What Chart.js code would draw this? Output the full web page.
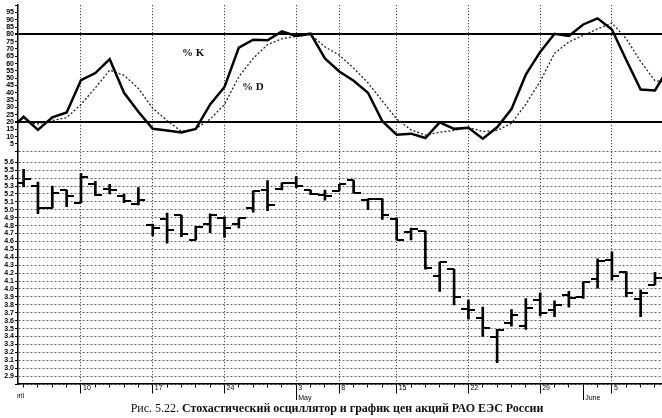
<!DOCTYPE html>
<html>
<head>
<meta charset="utf-8">
<script src="https://cdn.jsdelivr.net/npm/chart.js@4.4.1/dist/chart.umd.min.js"></script>
<style>
  html, body { margin: 0; padding: 0; background: #fff; }
  #wrap { position: relative; width: 662px; height: 418px; overflow: hidden; }
  #c { position: absolute; left: 0; top: 0; }
  .lbl { position: absolute; font: bold 11px "Liberation Serif", serif; color: #111; }
  #april { position: absolute; left: 17px; top: 392px; width: 12px; overflow: hidden; white-space: nowrap;
           font: 7px "Liberation Sans", sans-serif; }
  #april span { margin-left: -7px; }
  #caption { position: absolute; left: 6px; top: 401px; width: 662px; text-align: center;
             font: 12px "Liberation Serif", serif; color: #111; }
</style>
</head>
<body>
<div id="wrap">
  <canvas id="c" width="662" height="402"></canvas>
  <div class="lbl" style="left:182px; top:46px;">% K</div>
  <div class="lbl" style="left:242px; top:80px;">% D</div>
  <div id="april"><span>April</span></div>
  <div id="caption">Рис. 5.22. <b>Стохастический осциллятор и график цен акций РАО ЕЭС России</b></div>
</div>
<script>
// trading days, April - June 2000
const days = ['04-03','04-04','04-05','04-06','04-07','04-10','04-11','04-12','04-13','04-14',
  '04-17','04-18','04-19','04-20','04-21','04-24','04-25','04-26','04-27','04-28',
  '05-03','05-04','05-05','05-08','05-10','05-11','05-12','05-15','05-16','05-17',
  '05-18','05-19','05-22','05-23','05-24','05-25','05-26','05-29','05-30','05-31',
  '06-01','06-02','06-05','06-06','06-07','06-08','06-09'];
const weekTicks = ['04-10','04-17','04-24','05-03','05-08','05-15','05-22','05-29','06-05'];
const monthTicks = ['05-03','06-01'];
const monthNames = ['May','June'];

// stochastic oscillator
const pctK = [14, 23.6, 14.6, 23.2, 26.5, 48.6, 53.5, 63, 40, 27, 15.3, 14.2, 12.8, 15.3, 32, 44,
  71, 76.4, 76, 82, 79, 80.5, 63.6, 54.6, 48.3, 40, 20.5, 11.3, 12, 9, 19.8, 15.3, 16, 8.6, 16.4,
  28.8, 52.4, 68, 80.4, 78.9, 86.8, 91, 83.4, 62.5, 42.2, 41.6, 58];
const pctD = [19, 20, 18.7, 21, 23, 32, 43.4, 55.5, 52, 43, 29.4, 21, 13.5, 15.3, 22, 32,
  51, 63.6, 73, 77, 78.7, 79.8, 71.5, 65.8, 56.9, 46.8, 34.4, 22, 14.6, 11, 13, 14.2, 16.4, 13.5, 14.2,
  19.1, 32.2, 47.8, 67, 74.8, 79.3, 83.8, 87.9, 77, 61.4, 48.3, 47];
const levels = [20, 80];

// price bars
const open = [null, 5.34, 5.30, 5.02, 5.25, 5.09, 5.32, 5.26, 5.17, 5.07, 4.81, 4.88, 4.93, 4.62, 4.82, 4.90,
  4.82, 5.02, 5.25, 5.26, 5.34, 5.25, 5.19, 5.24, 5.37, 5.12, 5.13, 4.89, 4.72, 4.73, 4.17,
  4.25, 3.75, 3.63, 3.39, 3.57, 3.53, 3.86, 3.73, 3.93, 3.90, 4.12, 4.37, 4.22, 3.87, 4.05, null];
const high = [null, 5.51, 5.35, 5.30, 5.25, 5.46, 5.36, 5.32, 5.20, 5.28, 4.82, 4.96, 4.93, 4.79, 4.95, 4.91,
  4.90, 5.24, 5.37, 5.34, 5.42, 5.25, 5.25, 5.32, 5.37, 5.14, 5.14, 4.90, 4.77, 4.73, 4.34,
  4.25, 3.86, 3.77, 3.49, 3.74, 3.88, 3.95, 3.85, 3.97, 4.09, 4.38, 4.47, 4.22, 3.99, 4.21, null];
const low = [null, 5.29, 4.95, 5.02, 5.04, 5.09, 5.18, 5.20, 5.09, 5.06, 4.67, 4.58, 4.66, 4.62, 4.71, 4.65,
  4.77, 4.97, 4.99, 5.25, 5.28, 5.19, 5.12, 5.24, 5.21, 5.00, 4.88, 4.62, 4.62, 4.25, 3.97,
  3.80, 3.62, 3.40, 3.07, 3.53, 3.49, 3.66, 3.65, 3.77, 3.88, 4.01, 4.11, 3.90, 3.65, 4.05, null];
const close = [null, 5.39, 5.02, 5.21, 5.18, 5.42, 5.19, 5.25, 5.11, 5.12, 4.77, 4.75, 4.70, 4.78, 4.94, 4.77,
  4.90, 5.24, 5.06, 5.34, 5.30, 5.20, 5.18, 5.32, 5.21, 5.13, 4.93, 4.62, 4.76, 4.26, 4.34,
  3.90, 3.73, 3.51, 3.48, 3.67, 3.76, 3.70, 3.80, 3.88, 4.09, 4.35, 4.17, 3.95, 3.95, 4.14, null];

// small open/close tick marks used as point styles
function tickImage(side) {
  const c = document.createElement('canvas');
  c.width = 14; c.height = 2;
  const g = c.getContext('2d');
  g.fillStyle = '#000';
  g.fillRect(side === 'left' ? 0 : 7, 0, 7, 2);
  return c;
}

const xy = (arr) => arr.map((v, i) => ({ x: i, y: v })).filter(p => p.y !== null);
const dayAt = (v) => days[Math.round(v)] || '';
const tinyFont = { family: 'Liberation Sans', size: 7, weight: 'bold' };

Chart.defaults.color = '#000';

new Chart(document.getElementById('c'), {
  type: 'line',
  data: {
    datasets: [
      { label: '%K', data: xy(pctK), yAxisID: 'yK', borderColor: '#000', borderWidth: 2.5,
        pointRadius: 0, tension: 0 },
      { label: '%D', data: xy(pctD), yAxisID: 'yK', borderColor: '#222', borderWidth: 1.3,
        borderDash: [2, 2], pointRadius: 0, tension: 0 },
      { type: 'bar', label: 'High-Low', data: xy(high).map(p => ({ x: p.x, y: [low[p.x], p.y] })),
        yAxisID: 'yP', backgroundColor: '#000', barThickness: 2, borderWidth: 0 },
      { label: 'Open', data: xy(open), yAxisID: 'yP', showLine: false,
        pointStyle: tickImage('left'), pointRadius: 3 },
      { label: 'Close', data: xy(close), yAxisID: 'yP', showLine: false,
        pointStyle: tickImage('right'), pointRadius: 3 }
    ]
  },
  options: {
    responsive: false,
    animation: false,
    events: [],
    layout: { padding: 0, autoPadding: false },
    plugins: { legend: { display: false }, tooltip: { enabled: false } },
    scales: {
      x: {
        type: 'linear', min: 0.61, max: 45.49, offset: false,
        afterFit: (s) => { s.height = 18; },
        border: { color: '#000', width: 1.5, dash: [1, 2] },
        grid: {
          offset: false,
          color: (ctx) => weekTicks.includes(dayAt(ctx.tick.value)) ? '#222' : 'rgba(0,0,0,0)',
          lineWidth: 1,
          tickLength: 16,
          tickColor: '#000',
          tickWidth: 1,
          tickBorderDash: (ctx) => {
            const d = dayAt(ctx.tick.value);
            if (monthTicks.includes(d)) return [];
            return weekTicks.includes(d) ? [9, 40] : [3, 40];
          }
        },
        ticks: {
          stepSize: 1, includeBounds: false, autoSkip: false, maxRotation: 0,
          align: 'start', labelOffset: 2, padding: -16,
          font: { family: 'Liberation Sans', size: 7, lineHeight: 1.3 },
          callback: (v) => {
            const d = dayAt(v);
            const day = weekTicks.includes(d) ? String(parseInt(d.slice(3), 10)) : '';
            const m = monthTicks.indexOf(d);
            return [day, m >= 0 ? monthNames[m] : ''];
          }
        }
      },
      yP: {
        type: 'linear', position: 'left', stack: 'panels', stackWeight: 236,
        min: 2.8, max: 5.74,
        afterFit: (s) => { s.width = 18; },
        border: { color: '#000', width: 1.5, dash: [2, 2] },
        grid: { color: '#666', lineWidth: 1, tickColor: '#000', tickLength: 3 },
        ticks: {
          stepSize: 0.1, autoSkip: false, padding: 1, font: tinyFont,
          callback: (v) => {
            const t = Math.round(v * 10);
            return (t >= 29 && t <= 56) ? (t / 10).toFixed(1) : '';
          }
        }
      },
      yK: {
        type: 'linear', position: 'left', stack: 'panels', stackWeight: 148,
        min: 0, max: 100,
        afterFit: (s) => { s.width = 18; },
        border: { color: '#000', width: 1.5 },
        grid: {
          color: (ctx) => levels.includes(ctx.tick.value) ? '#000' : 'rgba(0,0,0,0)',
          lineWidth: (ctx) => levels.includes(ctx.tick.value) ? 2 : 1,
          tickColor: '#000', tickLength: 3
        },
        ticks: {
          stepSize: 5, autoSkip: false, padding: 1, font: tinyFont,
          callback: (v) => (v > 0 && v < 100) ? String(v) : ''
        }
      }
    }
  }
});
</script>
</body>
</html>
